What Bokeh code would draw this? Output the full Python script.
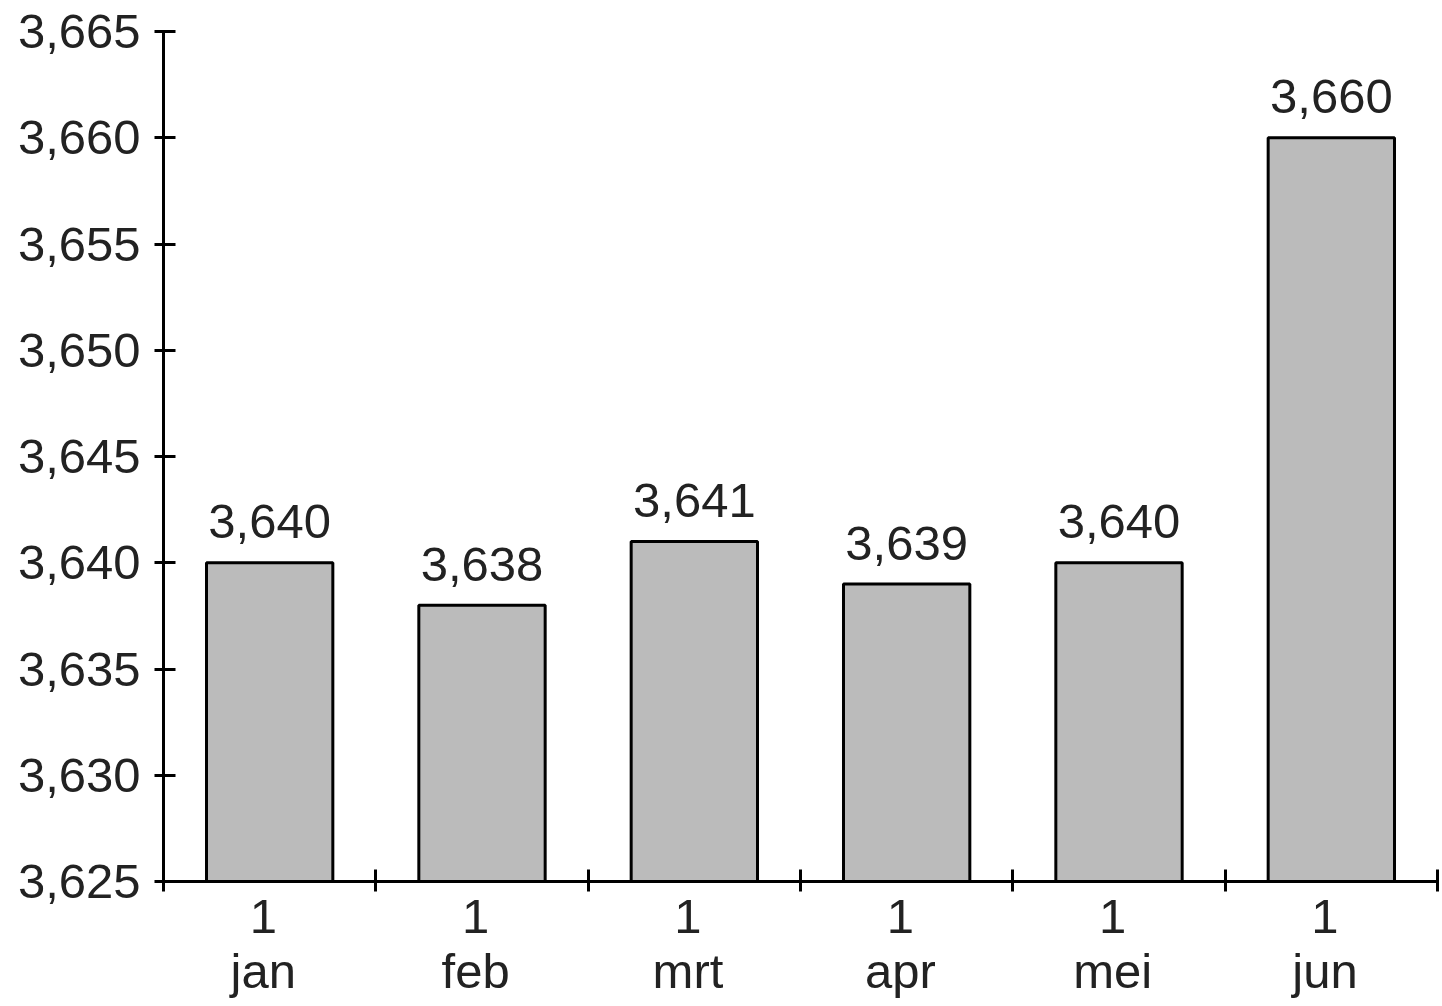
from bokeh.plotting import figure
from bokeh.models import ColumnDataSource, FixedTicker, NumeralTickFormatter, Range1d, LinearAxis
from bokeh.embed import file_html
from bokeh.resources import INLINE
from bokeh.core.properties import value

days = ["1", "1", "1", "1", "1", "1"]
months = ["jan", "feb", "mrt", "apr", "mei", "jun"]
values = [3640, 3638, 3641, 3639, 3640, 3660]
value_labels = ["3,640", "3,638", "3,641", "3,639", "3,640", "3,660"]
y_ticks = [3625, 3630, 3635, 3640, 3645, 3650, 3655, 3660, 3665]

FONT = "Liberation Sans"
TXT = "#222222"
FS = "49px"

xs = [i + 0.5 for i in range(len(months))]
label_xs = [x - 0.03 for x in xs]
src = ColumnDataSource(dict(x=xs, top=values, lab=value_labels))

p = figure(width=1442, height=1006, output_backend="svg", toolbar_location=None,
           x_range=Range1d(0, len(months)), y_range=Range1d(3625, 3665),
           min_border_left=163, min_border_right=5, min_border_top=31, min_border_bottom=125)
p.outline_line_color = None
p.grid.grid_line_color = None
p.background_fill_color = "white"
p.border_fill_color = "white"

p.vbar(x="x", top="top", bottom=3625, width=0.595, source=src,
       fill_color="#bbbbbb", line_color="black", line_width=3)
p.text(x="x", y="top", text="lab", source=src, text_align="center",
       text_baseline="alphabetic", y_offset=-41, text_font=value(FONT),
       text_font_size=FS, text_color=TXT)

# x axis: day numbers + boundary ticks
xa = p.xaxis[0]
xa.ticker = FixedTicker(ticks=label_xs, minor_ticks=list(range(len(months) + 1)))
xa.major_label_overrides = {x: d for x, d in zip(label_xs, days)}
xa.major_tick_line_color = None
xa.major_tick_out = 10
xa.major_tick_in = 0
xa.minor_tick_line_color = "black"
xa.minor_tick_line_width = 3
xa.minor_tick_in = 12
xa.minor_tick_out = 10
xa.axis_line_width = 3
xa.axis_line_color = "black"
xa.major_label_text_font = FONT
xa.major_label_text_font_size = FS
xa.major_label_text_color = TXT
xa.major_label_standoff = 8

# second x axis: month names
xm = LinearAxis(ticker=FixedTicker(ticks=label_xs, minor_ticks=[]),
                major_label_overrides={x: m for x, m in zip(label_xs, months)})
xm.axis_line_color = None
xm.major_tick_line_color = None
xm.minor_tick_line_color = None
xm.major_tick_out = 0
xm.major_tick_in = 0
xm.major_label_text_font = FONT
xm.major_label_text_font_size = FS
xm.major_label_text_color = TXT
xm.major_label_standoff = 8
p.add_layout(xm, "below")

# y axis
ya = p.yaxis[0]
ya.ticker = FixedTicker(ticks=y_ticks)
ya.formatter = NumeralTickFormatter(format="0,0")
ya.minor_tick_line_color = None
ya.major_tick_in = 12
ya.major_tick_out = 9
ya.major_tick_line_width = 3
ya.major_tick_line_color = "black"
ya.axis_line_width = 3
ya.axis_line_color = "black"
ya.major_label_text_font = FONT
ya.major_label_text_font_size = FS
ya.major_label_text_color = TXT
ya.major_label_standoff = 14

open("out.html", "w").write(file_html(p, INLINE))
